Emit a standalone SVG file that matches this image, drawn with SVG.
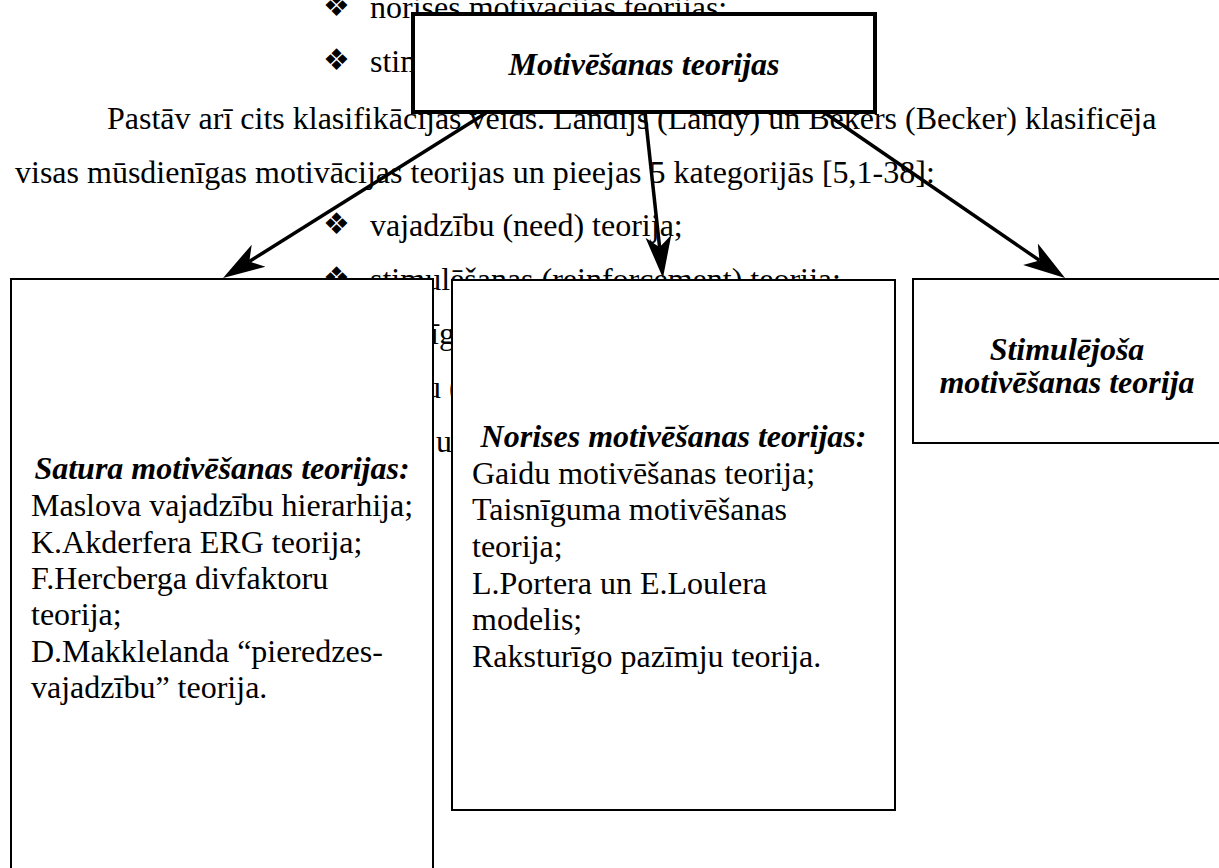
<svg xmlns="http://www.w3.org/2000/svg" width="1219" height="868" viewBox="0 0 1219 868">
  <style>
    .txt { font-family: "Liberation Serif", "Times New Roman", serif; font-size: 32px; fill: #000; }
    .ttl { font-family: "Liberation Serif", "Times New Roman", serif; font-size: 32px; font-weight: bold; font-style: italic; fill: #000; }
    .bul { font-family: "DejaVu Sans", sans-serif; font-size: 30px; fill: #000; }
    .box { fill: #fff; stroke: #000; stroke-width: 2; }
    .box-main { fill: #fff; stroke: #000; stroke-width: 4; }
    .conn { fill: none; stroke: #000; stroke-width: 3.5; marker-end: url(#stealth); }
  </style>
  <defs>
    <marker id="stealth" markerUnits="userSpaceOnUse" viewBox="0 -14 44 28" markerWidth="44" markerHeight="28" refX="11" refY="0" orient="auto">
      <path d="M42,0 L0,-13 L11,0 L0,13 Z" fill="#000"/>
    </marker>
  </defs>
  <rect width="1219" height="868" fill="#fff"/>

  <!-- page text running underneath the chart -->
  <g id="page-text">
    <text class="bul" x="323" y="16">❖</text>
    <text class="txt" x="370" y="18">norises motivācijas teorijas;</text>
    <text class="bul" x="323" y="70">❖</text>
    <text class="txt" x="370" y="72">stim</text>
    <text class="txt" x="107" y="129">Pastāv arī cits klasifikācijas veids. Landijs (Landy) un Bekers (Becker) klasificēja</text>
    <text class="txt" x="15" y="183">visas mūsdienīgas motivācijas teorijas un pieejas 5 kategorijās [5,1-38]:</text>
    <text class="bul" x="323" y="234">❖</text>
    <text class="txt" x="370" y="236">vajadzību (need) teorija;</text>
    <text class="bul" x="323" y="288">❖</text>
    <text class="txt" x="370" y="290">stimulēšanas (reinforcement) teorija;</text>
    <text class="txt" x="430" y="344">īg</text>
    <text class="txt" x="425" y="398">u (</text>
    <text class="txt" x="436" y="452">u</text>
  </g>

  <!-- connectors -->
  <g id="connectors">
    <path class="conn" d="M486,113 L249.3,261.5"/>
    <path class="conn" d="M645,113 L659.6,247.2"/>
    <path class="conn" d="M825,113 L1039.5,260.4"/>
  </g>

  <g id="node-root">
    <rect class="box-main" x="413" y="14" width="462" height="98"/>
    <text class="ttl" x="644" y="75" text-anchor="middle">Motivēšanas teorijas</text>
  </g>

  <g id="node-content">
    <rect class="box" x="11" y="279" width="422" height="620"/>
    <text class="ttl" x="222" y="479" text-anchor="middle">Satura motivēšanas teorijas:</text>
    <text class="txt" x="31" y="516">Maslova vajadzību hierarhija;</text>
    <text class="txt" x="31" y="553">K.Akderfera ERG teorija;</text>
    <text class="txt" x="31" y="589">F.Hercberga divfaktoru</text>
    <text class="txt" x="31" y="625">teorija;</text>
    <text class="txt" x="31" y="662">D.Makklelanda “pieredzes-</text>
    <text class="txt" x="31" y="698">vajadzību” teorija.</text>
  </g>

  <g id="node-process">
    <rect class="box" x="452" y="280" width="443" height="530"/>
    <text class="ttl" x="673.5" y="447" text-anchor="middle">Norises motivēšanas teorijas:</text>
    <text class="txt" x="472" y="484">Gaidu motivēšanas teorija;</text>
    <text class="txt" x="472" y="520">Taisnīguma motivēšanas</text>
    <text class="txt" x="472" y="557">teorija;</text>
    <text class="txt" x="472" y="594">L.Portera un E.Loulera</text>
    <text class="txt" x="472" y="630">modelis;</text>
    <text class="txt" x="472" y="667">Raksturīgo pazīmju teorija.</text>
  </g>

  <g id="node-reinforcement">
    <rect class="box" x="913" y="279" width="315" height="164"/>
    <text class="ttl" x="1067" y="360" text-anchor="middle">Stimulējoša</text>
    <text class="ttl" x="1067" y="393" text-anchor="middle">motivēšanas teorija</text>
  </g>
</svg>
